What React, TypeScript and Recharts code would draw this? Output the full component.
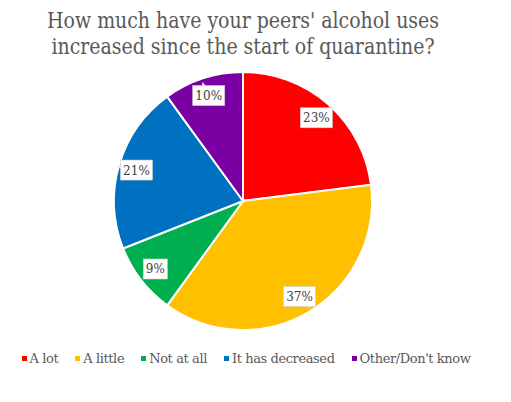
import React from "react";
import { PieChart, Pie, Cell, Legend } from "recharts";

const categories = ["A lot", "A little", "Not at all", "It has decreased", "Other/Don't know"];
const shares = [23, 37, 9, 21, 10];
const colors = ["#FF0000", "#FFC000", "#00B050", "#0070C0", "#7A00A3"];

const data = categories.map((name, i) => ({ name, value: shares[i] }));

const RAD = Math.PI / 180;
const FONT = "DejaVu Serif";

// white callout box with a small tail pointing outward
const renderLabel = (props: any) => {
  const { cx, cy, midAngle, outerRadius, value } = props;
  const r = outerRadius * 0.86;
  const x = cx + r * Math.cos(-midAngle * RAD);
  const y = cy + r * Math.sin(-midAngle * RAD);
  const w = value >= 10 ? 32 : 24;
  const h = 20;
  const dx = Math.cos(-midAngle * RAD);
  const dy = Math.sin(-midAngle * RAD);
  const tx = x + dx * (w / 2 + 4);
  const ty = y + dy * (h / 2 + 4);
  return (
    <g>
      <polygon
        points={`${x + dx * (w / 2 - 4) - dy * 3},${y + dy * (h / 2 - 4) + dx * 3} ${tx},${ty} ${x + dx * (w / 2 - 4) + dy * 3},${y + dy * (h / 2 - 4) - dx * 3}`}
        fill="#fff"
        stroke="#d0d0d0"
        strokeWidth={0.6}
      />
      <rect x={x - w / 2} y={y - h / 2} width={w} height={h} fill="#fff" stroke="#d0d0d0" strokeWidth={0.6} />
      <text x={x} y={y + 1} textAnchor="middle" dominantBaseline="middle" fontFamily={FONT} fontSize={12} fill="#404040">
        {value}%
      </text>
    </g>
  );
};

const renderLegend = () => (
  <div style={{ display: "flex", justifyContent: "center", gap: 17, fontFamily: FONT, fontSize: 13, color: "#595959", letterSpacing: -0.4 }}>
    {categories.map((c, i) => (
      <div key={c} style={{ display: "flex", alignItems: "center" }}>
        <span style={{ width: 5, height: 5, background: colors[i], marginRight: 3, display: "inline-block" }} />
        <span>{c}</span>
      </div>
    ))}
  </div>
);

export default function App() {
  return (
    <div style={{ position: "relative", width: 511, height: 402, background: "#fff" }}>
      <style>{"body{margin:0}"}</style>
      <div
        style={{
          position: "absolute",
          top: 8,
          left: 0,
          width: 486,
          textAlign: "center",
          fontFamily: FONT,
          fontSize: 22,
          lineHeight: "26px",
          color: "#595959",
          transform: "scaleX(0.86)",
          transformOrigin: "243px 0",
        }}
      >
        How much have your peers' alcohol uses
        <br />
        increased since the start of quarantine?
      </div>
      <PieChart width={511} height={402} margin={{ top: 0, right: 0, bottom: 0, left: 0 }}>
        <Pie
          data={data}
          dataKey="value"
          nameKey="name"
          cx={243}
          cy={201}
          outerRadius={129}
          startAngle={90}
          endAngle={-270}
          stroke="#fff"
          strokeWidth={2}
          label={renderLabel}
          labelLine={false}
          isAnimationActive={false}
        >
          {data.map((d, i) => (
            <Cell key={d.name} fill={colors[i]} />
          ))}
        </Pie>
        <Legend content={renderLegend} wrapperStyle={{ position: "absolute", top: 351, left: 0, width: 492 }} />
      </PieChart>
    </div>
  );
}
